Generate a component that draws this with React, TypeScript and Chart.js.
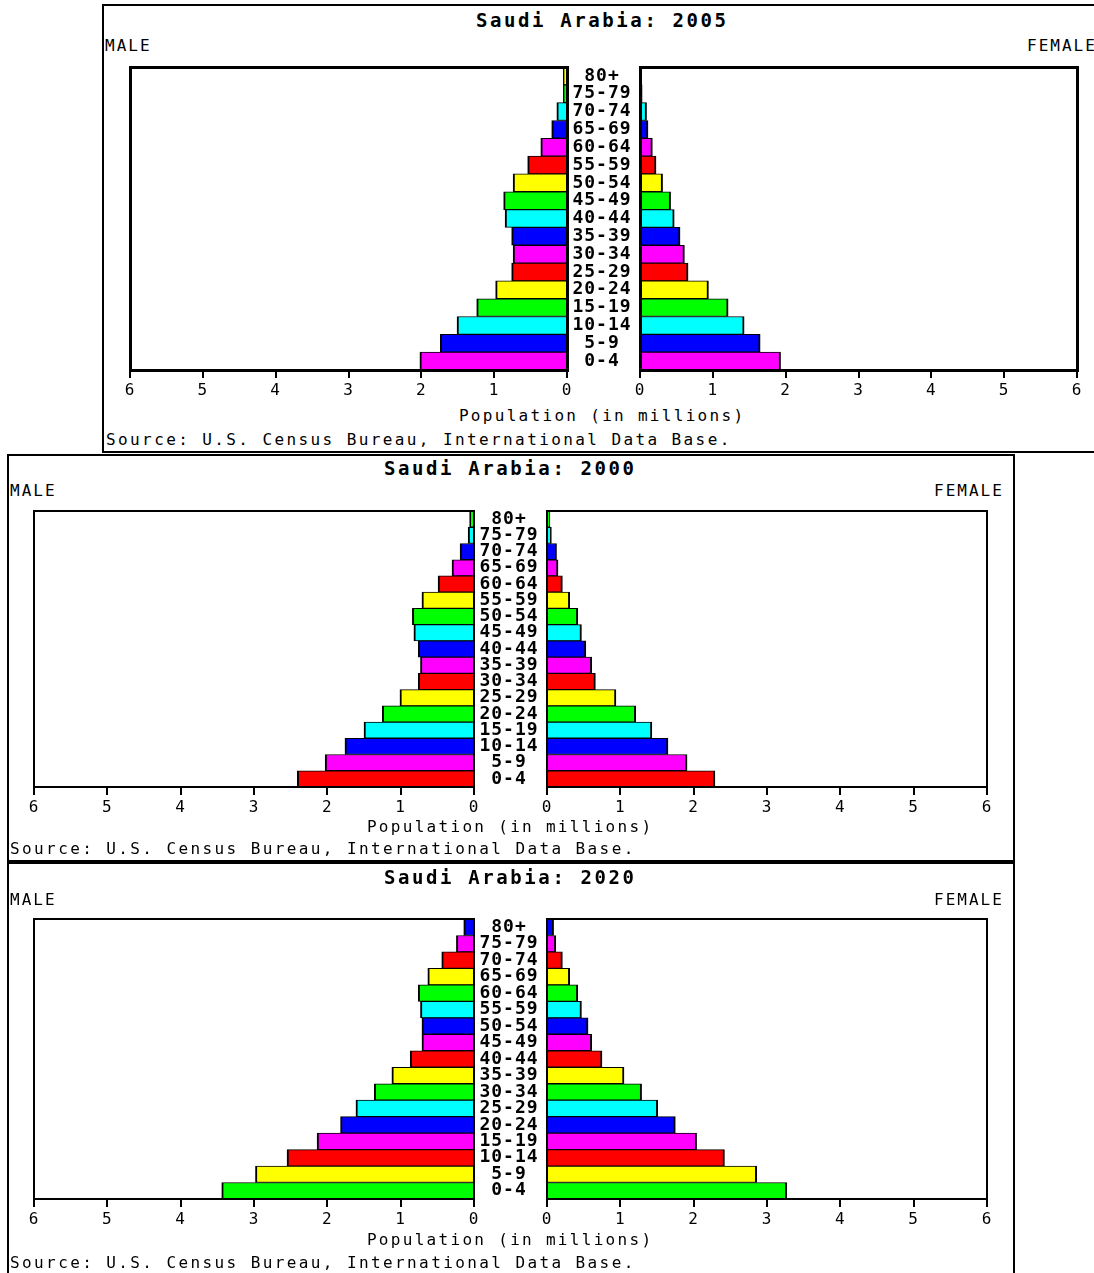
import React, { useEffect, useRef } from "react";
import { Chart, registerables } from "chart.js";

Chart.register(...registerables);

// ---------------- data ----------------
const AGE_GROUPS = [
  "80+", "75-79", "70-74", "65-69", "60-64", "55-59", "50-54", "45-49", "40-44",
  "35-39", "30-34", "25-29", "20-24", "15-19", "10-14", "5-9", "0-4",
];

const X_MIN = 0;
const X_MAX = 6;
const X_STEP = 1;

const MALE_2005 = [0.05, 0.05, 0.14, 0.21, 0.36, 0.54, 0.74, 0.87, 0.85, 0.76, 0.74, 0.76, 0.98, 1.24, 1.51, 1.74, 2.02];
const FEMALE_2005 = [0.02, 0.03, 0.09, 0.11, 0.17, 0.22, 0.31, 0.42, 0.47, 0.55, 0.61, 0.66, 0.94, 1.21, 1.43, 1.65, 1.93];

const MALE_2000 = [0.06, 0.08, 0.19, 0.30, 0.49, 0.71, 0.84, 0.82, 0.76, 0.73, 0.76, 1.01, 1.25, 1.50, 1.76, 2.03, 2.41];
const FEMALE_2000 = [0.04, 0.06, 0.13, 0.15, 0.21, 0.31, 0.42, 0.47, 0.53, 0.61, 0.66, 0.94, 1.21, 1.43, 1.65, 1.91, 2.29];

const MALE_2020 = [0.14, 0.24, 0.44, 0.63, 0.76, 0.73, 0.71, 0.71, 0.87, 1.12, 1.36, 1.61, 1.82, 2.14, 2.55, 2.98, 3.44];
const FEMALE_2020 = [0.09, 0.12, 0.21, 0.31, 0.42, 0.47, 0.56, 0.61, 0.75, 1.05, 1.29, 1.51, 1.75, 2.04, 2.42, 2.86, 3.27];

const COUNTRY = "Saudi Arabia";
const MALE_LABEL = "MALE";
const FEMALE_LABEL = "FEMALE";
const AXIS_TITLE = "Population (in millions)";
const SOURCE_TEXT = "Source: U.S. Census Bureau, International Data Base.";

// ---------------- styles ----------------
const BAR_COLOR_CYCLE = ["#FF0000", "#FF00FF", "#0000FF", "#00FFFF", "#00FF00", "#FFFF00"];
const FONT_FAMILY = '"DejaVu Sans Mono", "Liberation Mono", monospace';
const PAD_X = 12;
const PAD_TOP = 4;
const AXIS_H = 32;

function barColors(year: number): string[] {
  const off = (((year - 2000) / 5) % 6 + 6) % 6;
  const n = AGE_GROUPS.length;
  return AGE_GROUPS.map((_, i) => BAR_COLOR_CYCLE[(n - 1 - i + off) % 6]);
}

type Box = { maleL: number; maleR: number; femL: number; femR: number; top: number; bottom: number };
type PanelSpec = {
  year: number;
  male: number[];
  female: number[];
  frame: { left: number; top: number; width: number; height: number };
  box: Box;
  boxLine: number;
  titleCx: number;
  titleCy: number;
  sexCy: number;
  maleX: number;
  femaleX: number;
  axisTitleCx: number;
  axisTitleCy: number;
  sourceX: number;
  sourceCy: number;
};

const PANELS: PanelSpec[] = [
  {
    year: 2005, male: MALE_2005, female: FEMALE_2005,
    frame: { left: 102, top: 4, width: 1010, height: 449 },
    box: { maleL: 130, maleR: 567, femL: 640, femR: 1077, top: 67, bottom: 370 },
    boxLine: 3,
    titleCx: 601, titleCy: 20, sexCy: 46, maleX: 105, femaleX: 1027,
    axisTitleCx: 601, axisTitleCy: 416, sourceX: 106, sourceCy: 440,
  },
  {
    year: 2000, male: MALE_2000, female: FEMALE_2000,
    frame: { left: 7, top: 454, width: 1008, height: 408 },
    box: { maleL: 34, maleR: 474, femL: 547, femR: 987, top: 511, bottom: 787 },
    boxLine: 2,
    titleCx: 509, titleCy: 468, sexCy: 491, maleX: 10, femaleX: 934,
    axisTitleCx: 509, axisTitleCy: 827, sourceX: 10, sourceCy: 849,
  },
  {
    year: 2020, male: MALE_2020, female: FEMALE_2020,
    frame: { left: 7, top: 862, width: 1008, height: 430 },
    box: { maleL: 34, maleR: 474, femL: 547, femR: 987, top: 919, bottom: 1199 },
    boxLine: 2,
    titleCx: 509, titleCy: 877, sexCy: 900, maleX: 10, femaleX: 934,
    axisTitleCx: 509, axisTitleCy: 1240, sourceX: 10, sourceCy: 1263,
  },
];

const plotBoxPlugin = {
  id: "plotBox",
  afterDatasetsDraw(chart: any, _args: any, opts: any) {
    const { ctx, chartArea: a } = chart;
    const w = (opts && opts.lineWidth) || 2;
    const o = w % 2 === 1 ? 0.5 : 0;
    ctx.save();
    ctx.strokeStyle = "#000";
    ctx.lineWidth = w;
    ctx.strokeRect(a.left + o, a.top + o, a.right - a.left, a.bottom - a.top);
    ctx.restore();
  },
};

const spacingPlugin = {
  id: "letterSpacing",
  beforeDraw(chart: any) {
    try { chart.ctx.letterSpacing = "1px"; } catch (e) { /* ignore */ }
  },
  afterDraw(chart: any) {
    try { chart.ctx.letterSpacing = "0px"; } catch (e) { /* ignore */ }
  },
};

const AGE_FONT = { family: FONT_FAMILY, size: 18, weight: "bold" as const, lineHeight: 1 };
const TICK_FONT = { family: FONT_FAMILY, size: 16, weight: "normal" as const, lineHeight: 1 };

function widestAgeLabel(): number {
  const c = document.createElement("canvas").getContext("2d");
  if (!c) return 54;
  c.font = `bold 18px ${FONT_FAMILY}`;
  return Math.max(...AGE_GROUPS.map((l) => c.measureText(l).width));
}

function buildConfig(spec: PanelSpec, side: "male" | "female"): any {
  const isMale = side === "male";
  const b = spec.box;
  const gap = b.femL - b.maleR;
  const widest = widestAgeLabel();
  const labelPad = Math.max(0, gap / 2 + 1.5 - widest / 2);
  return {
    type: "bar",
    data: {
      labels: AGE_GROUPS,
      datasets: [
        {
          label: isMale ? MALE_LABEL : FEMALE_LABEL,
          data: isMale ? spec.male : spec.female,
          backgroundColor: barColors(spec.year),
          borderColor: "#000000",
          borderWidth: { top: 1, bottom: 1, left: 2, right: 2 },
          borderSkipped: "start",
          barPercentage: 1,
          categoryPercentage: 1,
        },
      ],
    },
    options: {
      indexAxis: "y",
      responsive: false,
      maintainAspectRatio: false,
      animation: false,
      devicePixelRatio: 1,
      events: [],
      layout: { padding: { left: isMale ? PAD_X : 0, right: PAD_X, top: PAD_TOP, bottom: 0 } },
      plugins: {
        legend: { display: false },
        tooltip: { enabled: false },
        title: { display: false },
        plotBox: { lineWidth: spec.boxLine },
      },
      scales: {
        x: {
          type: "linear",
          min: X_MIN,
          max: X_MAX,
          reverse: isMale,
          ticks: { stepSize: X_STEP, autoSkip: false, maxRotation: 0, color: "#000", font: TICK_FONT, padding: 5 },
          grid: { drawOnChartArea: false, drawTicks: true, tickLength: 8, lineWidth: 2, color: "#000" },
          border: { display: false },
          afterFit: (s: any) => { s.height = AXIS_H; },
        },
        y: isMale
          ? { display: false }
          : {
              position: "left",
              grid: { display: false, drawTicks: false },
              border: { display: false },
              ticks: { autoSkip: false, crossAlign: "center", padding: labelPad, color: "#000", font: AGE_FONT },
              afterFit: (s: any) => {
                s.width = gap;
                s.paddingTop = 0;
                s.paddingBottom = 0;
                s.paddingLeft = 0;
                s.paddingRight = 0;
              },
            },
      },
    },
    plugins: [plotBoxPlugin, spacingPlugin],
  };
}

function textStyle(opts: {
  left?: number; cx?: number; cy: number; size: number; bold?: boolean; spacing: number; width?: number;
}): React.CSSProperties {
  const lh = 20;
  const width = opts.width ?? 700;
  const base: React.CSSProperties = {
    position: "absolute",
    top: opts.cy - lh / 2,
    height: lh,
    lineHeight: `${lh}px`,
    fontFamily: FONT_FAMILY,
    fontSize: opts.size,
    fontWeight: opts.bold ? "bold" : "normal",
    letterSpacing: `${opts.spacing}px`,
    color: "#000",
    whiteSpace: "nowrap",
  };
  if (opts.cx !== undefined) {
    return { ...base, left: opts.cx - width / 2 + opts.spacing / 2, width, textAlign: "center" };
  }
  return { ...base, left: opts.left };
}

function Pyramid({ spec }: { spec: PanelSpec }) {
  const maleRef = useRef<HTMLCanvasElement | null>(null);
  const femaleRef = useRef<HTMLCanvasElement | null>(null);
  const b = spec.box;
  const cTop = b.top - PAD_TOP;
  const cH = b.bottom - b.top + PAD_TOP + AXIS_H;
  const maleC = { left: b.maleL - PAD_X, width: b.maleR - b.maleL + 2 * PAD_X };
  const femC = { left: b.maleR, width: b.femR - b.maleR + PAD_X };

  useEffect(() => {
    if (!maleRef.current || !femaleRef.current) return;
    const m = new Chart(maleRef.current, buildConfig(spec, "male"));
    const f = new Chart(femaleRef.current, buildConfig(spec, "female"));
    return () => {
      m.destroy();
      f.destroy();
    };
  }, [spec]);

  return (
    <>
      <div
        style={{
          position: "absolute",
          left: spec.frame.left,
          top: spec.frame.top,
          width: spec.frame.width,
          height: spec.frame.height,
          border: "2px solid #000",
          boxSizing: "border-box",
          background: "#fff",
        }}
      />
      <div style={textStyle({ cx: spec.titleCx, cy: spec.titleCy, size: 19, bold: true, spacing: 2.6 })}>
        {`${COUNTRY}: ${spec.year}`}
      </div>
      <div style={textStyle({ left: spec.maleX, cy: spec.sexCy, size: 16, spacing: 2 })}>{MALE_LABEL}</div>
      <div style={textStyle({ left: spec.femaleX, cy: spec.sexCy, size: 16, spacing: 2 })}>{FEMALE_LABEL}</div>
      <canvas
        ref={maleRef}
        width={maleC.width}
        height={cH}
        style={{ position: "absolute", left: maleC.left, top: cTop, width: maleC.width, height: cH }}
      />
      <canvas
        ref={femaleRef}
        width={femC.width}
        height={cH}
        style={{ position: "absolute", left: femC.left, top: cTop, width: femC.width, height: cH }}
      />
      <div style={textStyle({ cx: spec.axisTitleCx, cy: spec.axisTitleCy, size: 16, spacing: 2.3 })}>{AXIS_TITLE}</div>
      <div style={textStyle({ left: spec.sourceX, cy: spec.sourceCy, size: 16, spacing: 2.4 })}>{SOURCE_TEXT}</div>
    </>
  );
}

export default function App() {
  return (
    <div
      style={{
        position: "absolute",
        left: 0,
        top: 0,
        width: 1094,
        height: 1273,
        overflow: "hidden",
        background: "#fff",
      }}
    >
      {PANELS.map((p) => (
        <Pyramid key={p.year} spec={p} />
      ))}
    </div>
  );
}
